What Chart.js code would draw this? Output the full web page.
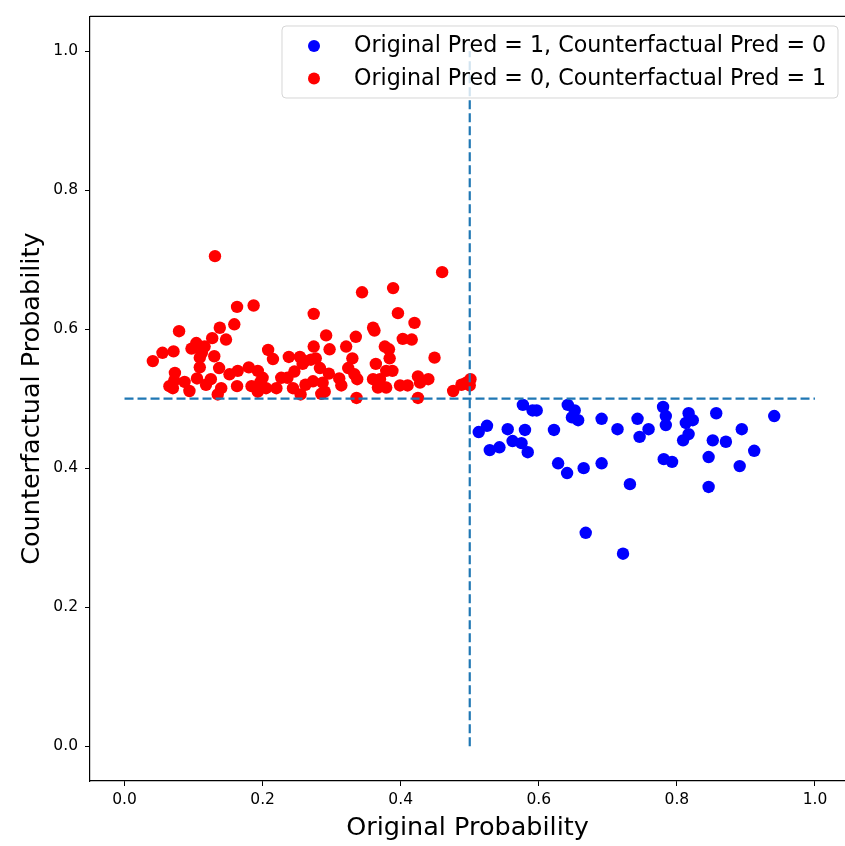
<!DOCTYPE html>
<html>
<head>
<meta charset="utf-8">
<script src="https://cdn.jsdelivr.net/npm/chart.js@4.4.1/dist/chart.umd.min.js"></script>
<style>
  html, body { margin: 0; padding: 0; background: #fff; overflow: hidden; }
</style>
</head>
<body>
<canvas id="chart" width="845" height="846"></canvas>
<script>
// original probability vs counterfactual probability
const bluePoints = [
  [0.513, 0.452], [0.525, 0.461], [0.529, 0.426], [0.543, 0.430], [0.555, 0.456],
  [0.562, 0.439], [0.575, 0.436], [0.577, 0.491], [0.580, 0.455], [0.584, 0.423],
  [0.591, 0.483], [0.597, 0.483], [0.622, 0.455], [0.628, 0.407], [0.641, 0.393],
  [0.642, 0.491], [0.648, 0.473], [0.652, 0.483], [0.657, 0.469], [0.665, 0.400],
  [0.668, 0.307], [0.691, 0.471], [0.691, 0.407], [0.714, 0.456], [0.722, 0.277],
  [0.732, 0.377], [0.743, 0.471], [0.746, 0.445], [0.759, 0.456], [0.780, 0.488],
  [0.784, 0.475], [0.784, 0.462], [0.781, 0.413], [0.793, 0.409], [0.817, 0.479],
  [0.813, 0.465], [0.823, 0.469], [0.817, 0.449], [0.809, 0.440], [0.857, 0.479],
  [0.852, 0.440], [0.871, 0.438], [0.846, 0.416], [0.846, 0.373], [0.894, 0.456],
  [0.912, 0.425], [0.891, 0.403], [0.941, 0.475]
];

const redPoints = [
  [0.131, 0.705], [0.163, 0.632], [0.187, 0.634], [0.159, 0.607], [0.079, 0.597],
  [0.138, 0.602], [0.127, 0.587], [0.147, 0.585], [0.055, 0.566], [0.071, 0.568],
  [0.041, 0.554], [0.097, 0.572], [0.104, 0.580], [0.116, 0.575], [0.109, 0.559],
  [0.130, 0.561], [0.109, 0.545], [0.073, 0.537], [0.137, 0.544], [0.152, 0.535],
  [0.164, 0.540], [0.180, 0.545], [0.193, 0.540], [0.208, 0.570], [0.215, 0.557],
  [0.238, 0.560], [0.254, 0.560], [0.105, 0.529], [0.125, 0.528], [0.087, 0.524],
  [0.070, 0.515], [0.140, 0.515], [0.163, 0.518], [0.184, 0.518], [0.205, 0.515],
  [0.220, 0.515], [0.244, 0.515], [0.094, 0.511], [0.135, 0.506], [0.227, 0.530],
  [0.065, 0.518], [0.200, 0.530], [0.236, 0.530], [0.246, 0.539], [0.258, 0.550],
  [0.072, 0.526], [0.118, 0.520], [0.193, 0.510], [0.255, 0.506], [0.262, 0.520],
  [0.112, 0.566], [0.197, 0.524],
  [0.460, 0.682], [0.389, 0.659], [0.344, 0.653], [0.274, 0.622], [0.396, 0.623],
  [0.420, 0.609], [0.360, 0.602], [0.362, 0.598], [0.292, 0.591], [0.335, 0.589],
  [0.403, 0.586], [0.416, 0.585], [0.274, 0.575], [0.297, 0.571], [0.321, 0.575],
  [0.377, 0.575], [0.383, 0.571], [0.270, 0.556], [0.261, 0.554], [0.277, 0.558],
  [0.330, 0.558], [0.384, 0.558], [0.449, 0.559], [0.283, 0.544], [0.296, 0.536],
  [0.324, 0.544], [0.333, 0.535], [0.337, 0.528], [0.364, 0.550], [0.360, 0.528],
  [0.379, 0.540], [0.388, 0.540], [0.273, 0.525], [0.287, 0.523], [0.285, 0.507],
  [0.311, 0.529], [0.314, 0.519], [0.336, 0.501], [0.367, 0.516], [0.379, 0.516],
  [0.399, 0.519], [0.410, 0.519], [0.425, 0.532], [0.428, 0.523], [0.440, 0.528],
  [0.425, 0.501], [0.476, 0.511], [0.488, 0.520], [0.495, 0.523], [0.501, 0.528],
  [0.500, 0.519], [0.370, 0.528], [0.290, 0.510]
];

const blueLabel = 'Original Pred = 1, Counterfactual Pred = 0';
const redLabel = 'Original Pred = 0, Counterfactual Pred = 1';

// threshold guides
const vLine = [[0.5, 0], [0.5, 1]];
const hLine = [[0, 0.5], [1, 0.5]];

const xTicks = [0, 0.2, 0.4, 0.6, 0.8, 1.0];
const yTicks = [0, 0.2, 0.4, 0.6, 0.8, 1.0];

const FONT = "'DejaVu Sans', sans-serif";

function toXY(arr) {
    return arr.map(p => ({ x: p[0], y: p[1] }));
}

// matplotlib-like top spine and legend box (right spine falls off the picture)
const framePlugin = {
    id: 'frame',
    afterDraw(chart) {
        const ctx = chart.ctx;
        const a = chart.chartArea;
        ctx.save();
        ctx.strokeStyle = '#000';
        ctx.lineWidth = 1.2;
        ctx.beginPath();
        ctx.moveTo(a.left, a.top);
        ctx.lineTo(a.right, a.top);
        ctx.stroke();

        // legend
        const bx = 282, by = 26, bw = 556, bh = 72, r = 4;
        ctx.beginPath();
        ctx.moveTo(bx + r, by);
        ctx.arcTo(bx + bw, by, bx + bw, by + bh, r);
        ctx.arcTo(bx + bw, by + bh, bx, by + bh, r);
        ctx.arcTo(bx, by + bh, bx, by, r);
        ctx.arcTo(bx, by, bx + bw, by, r);
        ctx.closePath();
        ctx.fillStyle = 'rgba(255,255,255,0.8)';
        ctx.fill();
        ctx.strokeStyle = 'rgba(204,204,204,0.8)';
        ctx.lineWidth = 1;
        ctx.stroke();

        const entries = chart.data.datasets.filter(d => d.type !== 'line');
        ctx.font = '22.2px ' + FONT;
        ctx.textBaseline = 'alphabetic';
        ctx.textAlign = 'left';
        entries.forEach((d, i) => {
            const cy = 46 + i * 32.5;
            ctx.beginPath();
            ctx.arc(314, cy, 6, 0, Math.PI * 2);
            ctx.fillStyle = d.backgroundColor;
            ctx.fill();
            ctx.fillStyle = '#000';
            ctx.fillText(d.label, 354, cy + 6);
        });
        ctx.restore();
    }
};

const chart = new Chart(document.getElementById('chart').getContext('2d'), {
    type: 'scatter',
    data: {
        datasets: [
            {
                type: 'line',
                label: 'v',
                data: toXY(vLine),
                borderColor: '#1f77b4',
                borderWidth: 2.2,
                borderDash: [9, 4],
                pointRadius: 0,
                fill: false,
                order: 0
            },
            {
                type: 'line',
                label: 'h',
                data: toXY(hLine),
                borderColor: '#1f77b4',
                borderWidth: 2.2,
                borderDash: [9, 4],
                pointRadius: 0,
                fill: false,
                order: 0
            },
            {
                label: blueLabel,
                data: toXY(bluePoints),
                backgroundColor: '#0000ff',
                borderWidth: 0,
                pointRadius: 6.2,
                order: 2
            },
            {
                label: redLabel,
                data: toXY(redPoints),
                backgroundColor: '#ff0000',
                borderWidth: 0,
                pointRadius: 6.2,
                order: 1
            }
        ]
    },
    options: {
        responsive: false,
        maintainAspectRatio: false,
        devicePixelRatio: 1,
        animation: false,
        layout: { autoPadding: false, padding: { top: 14, left: 0, right: 0, bottom: 0 } },
        plugins: {
            legend: { display: false },
            tooltip: { enabled: false }
        },
        scales: {
            x: {
                type: 'linear',
                min: -0.05,
                max: 1.0435,
                afterBuildTicks: (scale) => { scale.ticks = xTicks.map(v => ({ value: v })); },
                afterFit: (scale) => { scale.height = 65; },
                grid: { display: true, drawOnChartArea: false, drawTicks: true, tickLength: 5, color: '#000' },
                border: { display: true, color: '#000', width: 1.2 },
                ticks: {
                    color: '#000',
                    padding: 5,
                    font: { family: FONT, size: 15.5 },
                    callback: (v) => Number(v).toFixed(1)
                },
                title: {
                    display: true,
                    text: 'Original Probability',
                    color: '#000',
                    font: { family: FONT, size: 25.5 },
                    padding: { top: 0, bottom: 2 }
                }
            },
            y: {
                type: 'linear',
                min: -0.05,
                max: 1.05,
                afterBuildTicks: (scale) => { scale.ticks = yTicks.map(v => ({ value: v })); },
                afterFit: (scale) => { scale.width = 90; },
                grid: { display: true, drawOnChartArea: false, drawTicks: true, tickLength: 5, color: '#000' },
                border: { display: true, color: '#000', width: 1.2 },
                ticks: {
                    color: '#000',
                    padding: 7,
                    font: { family: FONT, size: 15.5 },
                    callback: (v) => Number(v).toFixed(1)
                },
                title: {
                    display: true,
                    text: 'Counterfactual Probability',
                    color: '#000',
                    font: { family: FONT, size: 25.5 },
                    padding: { top: 17, bottom: 0 }
                }
            }
        }
    },
    plugins: [framePlugin]
});
</script>
</body>
</html>
